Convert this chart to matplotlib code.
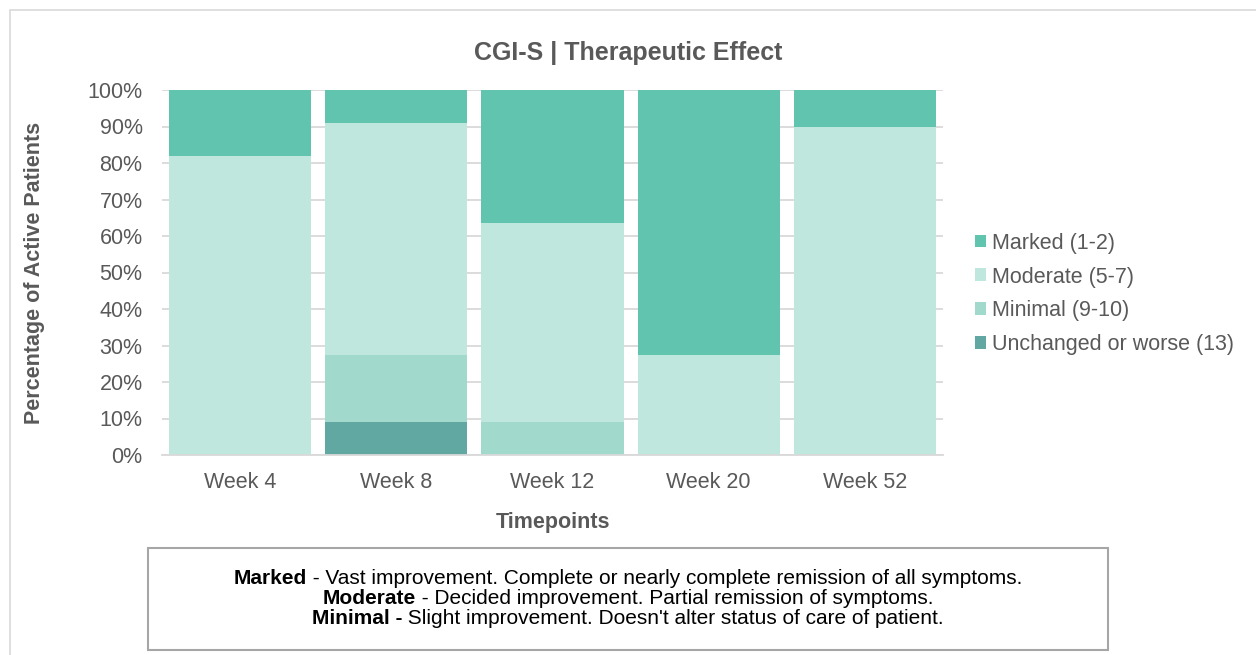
import numpy as np
import matplotlib.pyplot as plt
from matplotlib.patches import Rectangle

plt.rcParams['font.family'] = ['Liberation Sans', 'DejaVu Sans']

# data (% of active patients)
weeks = ['Week 4', 'Week 8', 'Week 12', 'Week 20', 'Week 52']
unchanged = [0, 9.1, 0, 0, 0]
minimal = [0, 18.2, 9.1, 0, 0]
moderate = [81.8, 63.6, 54.5, 27.3, 90.0]
marked = [18.2, 9.1, 36.4, 72.7, 10.0]

series = [
    ('Unchanged or worse (13)', unchanged, '#62A8A2'),
    ('Minimal (9-10)', minimal, '#A1DACC'),
    ('Moderate (5-7)', moderate, '#C0E7DE'),
    ('Marked (1-2)', marked, '#61C4AF'),
]

grey = '#595959'
fs = 15.5

fig = plt.figure(figsize=(12.56, 6.55), dpi=100)
ax = fig.add_axes([162 / 1256, 1 - 455 / 655, 781 / 1256, 365 / 655])

x = np.arange(len(weeks))
bottom = np.zeros(len(weeks))
handles = {}
for name, vals, col in series:
    vals = np.array(vals)
    b = ax.bar(x, vals, bottom=bottom, width=0.91, color=col, label=name, zorder=2)
    handles[name] = b
    bottom += vals

ax.set_xlim(-0.5, len(weeks) - 0.5)
ax.set_ylim(0, 100)
ax.set_yticks(np.arange(0, 101, 10))
ax.set_yticklabels([f'{v}%' for v in range(0, 101, 10)])
ax.set_xticks(x)
ax.set_xticklabels(weeks)
ax.tick_params(axis='both', length=0, labelsize=fs, colors=grey)
ax.tick_params(axis='x', pad=12)
ax.tick_params(axis='y', pad=14)
ax.yaxis.grid(True, color='#D9D9D9', linewidth=1.3, zorder=0)
ax.set_axisbelow(True)
for s in ['top', 'right', 'left']:
    ax.spines[s].set_visible(False)
ax.spines['bottom'].set_color('#D9D9D9')
ax.spines['bottom'].set_linewidth(1.3)

fig.text(628 / 1256, 1 - 53 / 655, 'CGI-S | Therapeutic Effect', fontsize=18,
         fontweight='bold', color=grey, ha='center', va='center')
ax.set_xlabel('Timepoints', fontsize=fs, fontweight='bold', color=grey, labelpad=14)
ax.set_ylabel('Percentage of Active Patients', fontsize=fs, fontweight='bold', color=grey)
ax.yaxis.set_label_coords((45 - 162) / 781, 0.5)

order = ['Marked (1-2)', 'Moderate (5-7)', 'Minimal (9-10)', 'Unchanged or worse (13)']
leg = fig.legend([handles[n] for n in order], order, loc='center left',
                 bbox_to_anchor=(966 / 1256, 1 - 294 / 655), frameon=False,
                 fontsize=fs, handlelength=0.55, handleheight=0.55, handletextpad=0.25,
                 labelspacing=0.6, borderaxespad=0)
for t in leg.get_texts():
    t.set_color(grey)

# outer chart border
fig.patches.append(Rectangle((10 / 1256, -0.01), 1.0, 1 - 10 / 655 + 0.01,
                             transform=fig.transFigure, fill=False,
                             edgecolor='#D9D9D9', linewidth=1.2))

# definitions box
fig.patches.append(Rectangle((148 / 1256, 1 - 650 / 655), 960 / 1256, 102 / 655,
                             transform=fig.transFigure, facecolor='white',
                             edgecolor='#A6A6A6', linewidth=1.5))
defs = [
    ('Marked', ' - Vast improvement. Complete or nearly complete remission of all symptoms.'),
    ('Moderate', ' - Decided improvement. Partial remission of symptoms.'),
    ('Minimal -', ' Slight improvement. Doesn\'t alter status of care of patient.'),
]
fig.canvas.draw()
r = fig.canvas.get_renderer()
for i, (bold, rest) in enumerate(defs):
    yy = 1 - (579 + 20 * i) / 655
    t1 = fig.text(0, yy, bold, fontsize=15, fontweight='bold', va='center')
    t2 = fig.text(0, yy, rest, fontsize=15, va='center')
    w1 = t1.get_window_extent(r).width
    w2 = t2.get_window_extent(r).width
    x0 = 628 - (w1 + w2) / 2
    t1.set_x(x0 / 1256)
    t2.set_x((x0 + w1) / 1256)

fig.savefig('out.png', dpi=100)
